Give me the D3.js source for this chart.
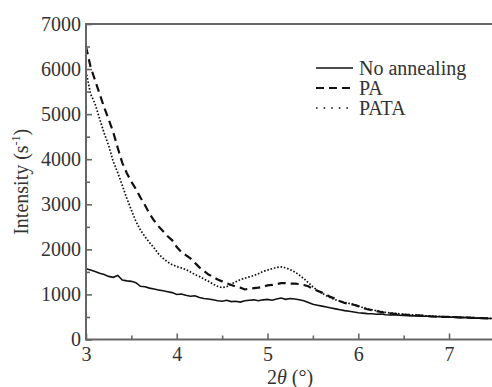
<!DOCTYPE html>
<html>
<head>
<meta charset="utf-8">
<script src="https://cdn.jsdelivr.net/npm/d3@7"></script>
<style>
  body { margin: 0; background: #fff; }
  svg { display: block; }
  text { font-family: "Liberation Serif", "Times New Roman", serif; fill: #333; }
</style>
</head>
<body>
<div id="chart"></div>
<script>
// 2theta positions (deg)
const theta = [3.00,3.05,3.10,3.15,3.20,3.25,3.30,3.35,3.40,3.45,3.50,3.55,3.60,3.65,3.70,3.75,3.80,3.85,3.90,3.95,
  4.00,4.05,4.10,4.15,4.20,4.25,4.30,4.35,4.40,4.45,4.50,4.55,4.60,4.65,4.70,4.75,4.80,4.85,4.90,4.95,
  5.00,5.05,5.10,5.15,5.20,5.25,5.30,5.35,5.40,5.45,5.50,5.55,5.60,5.65,5.70,5.75,5.80,5.85,5.90,5.95,
  6.00,6.05,6.10,6.15,6.20,6.25,6.30,6.35,6.40,6.45,6.50,6.55,6.60,6.65,6.70,6.75,6.80,6.85,6.90,6.95,
  7.00,7.05,7.10,7.15,7.20,7.25,7.30,7.35,7.40,7.45,7.50];

// intensities
const noAnnealing = [1570,1540,1510,1470,1440,1400,1380,1420,1320,1300,1290,1260,1180,1170,1140,1120,1100,1080,1060,1040,
  1000,1010,980,960,970,930,910,900,880,860,850,870,840,850,830,860,870,880,860,880,
  890,870,900,920,890,910,900,880,860,820,780,760,740,720,700,680,660,640,625,610,
  595,585,575,570,560,565,550,545,550,540,535,530,525,530,515,520,510,505,510,500,
  495,500,490,485,490,480,475,480,470,465,470];

const pa = [6500,6050,5750,5450,5150,4880,4600,4250,3920,3690,3500,3340,3150,2980,2790,2640,2510,2400,2290,2200,
  2050,1940,1870,1800,1700,1600,1520,1440,1390,1330,1290,1250,1210,1175,1150,1110,1130,1140,1150,1170,
  1200,1210,1230,1250,1250,1240,1240,1230,1210,1180,1120,1080,1040,990,940,900,850,810,790,770,
  740,700,670,650,630,610,590,580,570,560,550,545,540,535,530,520,515,510,505,500,
  500,495,490,490,485,480,480,475,470,470,465];

const pata = [5950,5450,5230,4900,4580,4300,3950,3700,3420,3130,2870,2620,2430,2280,2150,2030,1900,1800,1720,1660,
  1620,1590,1550,1500,1440,1400,1340,1290,1230,1180,1150,1170,1230,1280,1330,1360,1390,1420,1460,1510,
  1540,1570,1600,1610,1590,1550,1500,1430,1350,1260,1170,1090,1030,970,920,880,850,820,800,780,
  740,710,680,660,640,620,600,590,580,570,560,550,545,540,535,525,520,515,510,505,
  500,500,495,490,490,485,480,480,475,470,470];

const seriesNames = ["No annealing", "PA", "PATA"];
const xTicks = [3, 4, 5, 6, 7];
const yTicks = [0, 1000, 2000, 3000, 4000, 5000, 6000, 7000];

const width = 492;
const height = 387;
const margin = { top: 24, left: 86, bottom: 47.5 };
const plotRight = 494.4; // x axis runs slightly past the right edge of the picture

const svg = d3.select("#chart")
  .append("svg")
  .attr("width", width)
  .attr("height", height);

const x = d3.scaleLinear().domain([3, 7.5]).range([margin.left, plotRight]);
const y = d3.scaleLinear().domain([0, 7000]).range([height - margin.bottom, margin.top]);

svg.append("clipPath").attr("id", "plot-clip")
  .append("rect")
  .attr("x", margin.left).attr("y", margin.top)
  .attr("width", plotRight - margin.left)
  .attr("height", y(0) - margin.top);

// data lines
const styles = [
  { data: noAnnealing, dash: null, w: 1.6 },
  { data: pa, dash: "8,5", w: 2.2 },
  { data: pata, dash: "1.6,1.8", w: 1.7 }
];

const line = d3.line()
  .x((d, i) => x(theta[i]))
  .y(d => y(d));

const lines = svg.append("g").attr("clip-path", "url(#plot-clip)");
styles.forEach(s => {
  lines.append("path")
    .datum(s.data)
    .attr("d", line)
    .attr("fill", "none")
    .attr("stroke", "#111")
    .attr("stroke-width", s.w)
    .attr("stroke-dasharray", s.dash);
});

// frame
svg.append("rect")
  .attr("x", margin.left).attr("y", margin.top)
  .attr("width", plotRight - margin.left)
  .attr("height", y(0) - margin.top)
  .attr("fill", "none")
  .attr("stroke", "#666")
  .attr("stroke-width", 2);

// x axis, ticks pointing inside
const xAxis = svg.append("g")
  .attr("transform", `translate(0,${y(0)})`)
  .call(d3.axisBottom(x).tickValues(xTicks).tickSize(-6).tickFormat(d3.format("d")));
svg.append("g")
  .attr("transform", `translate(0,${y(0)})`)
  .call(d3.axisBottom(x).tickValues([3.5, 4.5, 5.5, 6.5]).tickSize(-4).tickFormat(""))
  .call(g => g.select(".domain").remove())
  .selectAll("line").attr("stroke", "#666").attr("stroke-width", 1.6);

xAxis.select(".domain").remove();
xAxis.selectAll("line").attr("stroke", "#666").attr("stroke-width", 1.6);
xAxis.selectAll("text")
  .attr("y", 7)
  .attr("dy", "0.71em")
  .style("font-size", "20px")
  .style("font-family", "Liberation Serif");

// y axis, ticks pointing inside
const yAxis = svg.append("g")
  .attr("transform", `translate(${margin.left},0)`)
  .call(d3.axisLeft(y).tickValues(yTicks).tickSize(-6).tickFormat(d3.format("d")));
svg.append("g")
  .attr("transform", `translate(${margin.left},0)`)
  .call(d3.axisLeft(y).tickValues([500, 1500, 2500, 3500, 4500, 5500, 6500]).tickSize(-4).tickFormat(""))
  .call(g => g.select(".domain").remove())
  .selectAll("line").attr("stroke", "#666").attr("stroke-width", 1.6);

yAxis.select(".domain").remove();
yAxis.selectAll("line").attr("stroke", "#666").attr("stroke-width", 1.6);
yAxis.selectAll("text")
  .attr("x", -5)
  .style("font-size", "20px")
  .style("font-family", "Liberation Serif");

// axis titles
const yTitle = svg.append("text")
  .attr("transform", `translate(28,${(margin.top + y(0)) / 2}) rotate(-90)`)
  .attr("text-anchor", "middle")
  .style("font-size", "20px");
yTitle.append("tspan").text("Intensity (s");
yTitle.append("tspan").attr("dy", -8).style("font-size", "12px").text("-1");
yTitle.append("tspan").attr("dy", 8).text(")");

const xTitle = svg.append("text")
  .attr("x", 290)
  .attr("y", 384)
  .attr("text-anchor", "middle")
  .style("font-size", "20px");
xTitle.append("tspan").text("2");
xTitle.append("tspan").style("font-style", "italic").text("θ");
xTitle.append("tspan").text(" (°)");

// legend
const legend = svg.append("g");
const legendDash = [null, "8,5", "1.6,6"];
seriesNames.forEach((name, i) => {
  const ly = 68 + i * 20;
  legend.append("line")
    .attr("x1", 316).attr("x2", 353)
    .attr("y1", ly).attr("y2", ly)
    .attr("stroke", "#111")
    .attr("stroke-width", styles[i].w)
    .attr("stroke-dasharray", legendDash[i]);
  legend.append("text")
    .attr("x", 359)
    .attr("y", ly)
    .attr("dy", "0.35em")
    .style("font-size", "20px")
    .text(name);
});
</script>
</body>
</html>
